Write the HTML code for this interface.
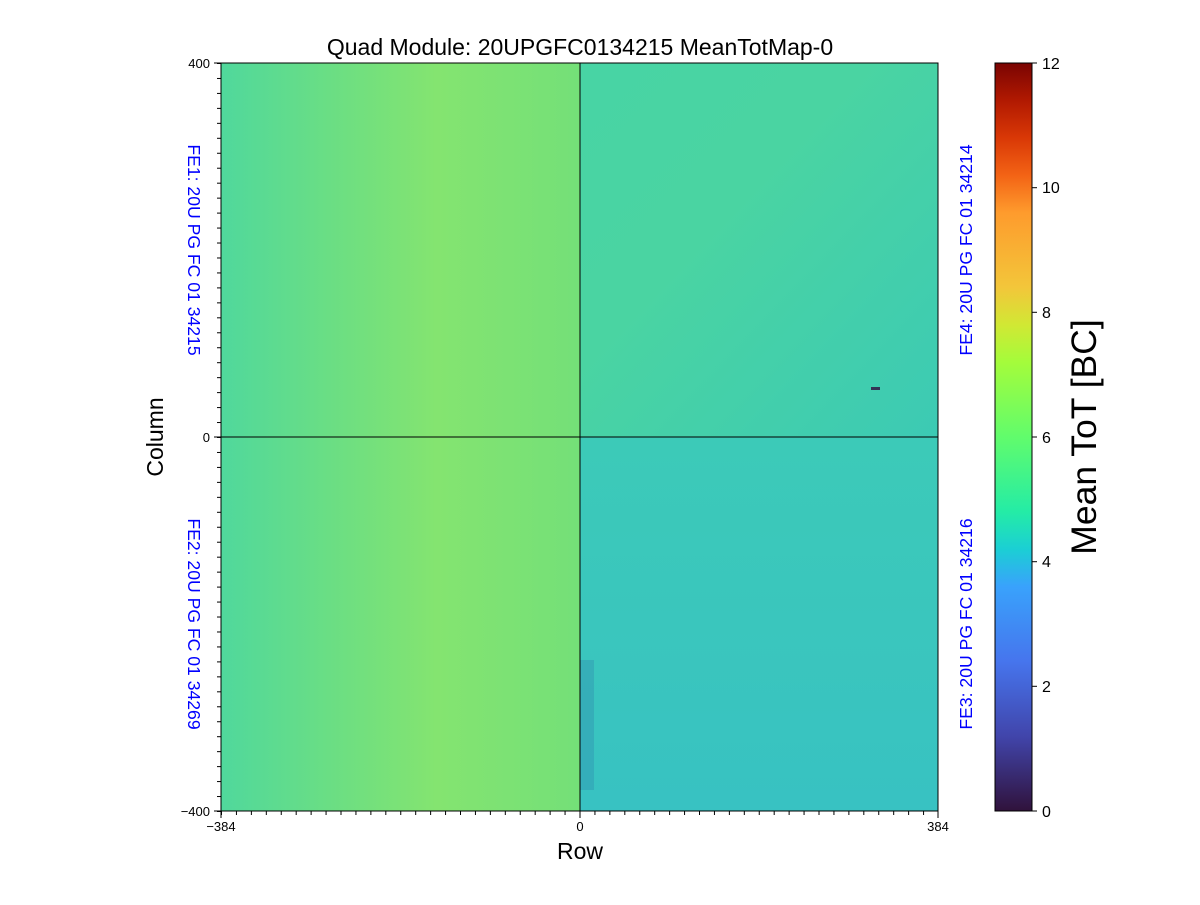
<!DOCTYPE html>
<html><head><meta charset="utf-8"><style>
html,body{margin:0;padding:0;background:#fff;}
svg text{font-family:"Liberation Sans","DejaVu Sans",sans-serif;}
</style></head><body>
<svg width="1200" height="900" viewBox="0 0 1200 900" xmlns="http://www.w3.org/2000/svg">
<defs>
<linearGradient id="gl" x1="0" x2="1" y1="0" y2="0">
<stop offset="0" stop-color="#50d89c"/><stop offset="0.3" stop-color="#6ade84"/>
<stop offset="0.6" stop-color="#84e470"/><stop offset="1" stop-color="#74e078"/>
</linearGradient>
<linearGradient id="gtr" x1="0" x2="1" y1="0" y2="1">
<stop offset="0" stop-color="#48d4a4"/><stop offset="0.4" stop-color="#4ad4a2"/><stop offset="1" stop-color="#3ccab4"/>
</linearGradient>
<linearGradient id="gbr" x1="0" x2="0" y1="0" y2="1">
<stop offset="0" stop-color="#3ccab8"/><stop offset="1" stop-color="#38c2c2"/>
</linearGradient>
<linearGradient id="cb" x1="0" x2="0" y1="1" y2="0">
<stop offset="0" stop-color="#30123b"/><stop offset="0.1" stop-color="#4145ab"/><stop offset="0.2" stop-color="#4675ed"/>
<stop offset="0.3" stop-color="#39a2fc"/><stop offset="0.35" stop-color="#1bcfd4"/><stop offset="0.4" stop-color="#24eca6"/>
<stop offset="0.5" stop-color="#61fc6c"/><stop offset="0.6" stop-color="#a4fc3b"/><stop offset="0.65" stop-color="#d1e834"/>
<stop offset="0.7" stop-color="#f3c63a"/><stop offset="0.8" stop-color="#fe9b2d"/><stop offset="0.85" stop-color="#f36315"/>
<stop offset="0.9" stop-color="#d93806"/><stop offset="0.95" stop-color="#b11901"/><stop offset="1" stop-color="#7a0402"/>
</linearGradient>
<pattern id="px" x="221" y="0" width="14.9375" height="10" patternUnits="userSpaceOnUse"><rect x="0" y="0" width="1" height="10" fill="#000"/></pattern>
<pattern id="py" x="0" y="63" width="10" height="14.96" patternUnits="userSpaceOnUse"><rect x="0" y="0" width="10" height="1" fill="#000"/></pattern>
</defs>
<text x="580" y="55" font-size="23" text-anchor="middle">Quad Module: 20UPGFC0134215 MeanTotMap-0</text>
<rect x="221" y="63" width="359" height="748" fill="url(#gl)"/>
<rect x="580" y="63" width="358" height="374" fill="url(#gtr)"/>
<rect x="580" y="437" width="358" height="374" fill="url(#gbr)"/>
<rect x="580" y="660" width="14" height="130" fill="#2a5aa0" opacity="0.2"/>
<rect x="871" y="387" width="9" height="3" fill="#335"/>
<line x1="580" y1="63" x2="580" y2="811" stroke="#000" stroke-width="1"/>
<line x1="221" y1="437" x2="938" y2="437" stroke="#000" stroke-width="1"/>
<rect x="221" y="63" width="717" height="748" fill="none" stroke="#000" stroke-width="1"/>
<rect x="221" y="811" width="717.5" height="4" fill="url(#px)"/>
<rect x="217" y="63" width="4" height="749" fill="url(#py)"/>
<line x1="221" y1="811" x2="221" y2="818" stroke="#000"/><line x1="580" y1="811" x2="580" y2="818" stroke="#000"/><line x1="938" y1="811" x2="938" y2="818" stroke="#000"/>
<line x1="214" y1="63" x2="221" y2="63" stroke="#000"/><line x1="214" y1="437" x2="221" y2="437" stroke="#000"/><line x1="214" y1="811" x2="221" y2="811" stroke="#000"/>
<g font-size="13">
<text x="221" y="831" text-anchor="middle">−384</text><text x="580" y="831" text-anchor="middle">0</text><text x="938" y="831" text-anchor="middle">384</text>
<text x="210" y="68" text-anchor="end">400</text><text x="210" y="442" text-anchor="end">0</text><text x="210" y="816" text-anchor="end">−400</text>
</g>
<text x="580" y="859" font-size="23" text-anchor="middle">Row</text>
<text transform="translate(163,437) rotate(-90)" font-size="23" text-anchor="middle">Column</text>
<g font-size="17.6" fill="#0000ff">
<text transform="translate(188,250) rotate(90)" text-anchor="middle">FE1: 20U PG FC 01 34215</text>
<text transform="translate(188,624) rotate(90)" text-anchor="middle">FE2: 20U PG FC 01 34269</text>
<text transform="translate(972,250) rotate(-90)" text-anchor="middle">FE4: 20U PG FC 01 34214</text>
<text transform="translate(972,624) rotate(-90)" text-anchor="middle">FE3: 20U PG FC 01 34216</text>
</g>
<rect x="995" y="63" width="37" height="748" fill="url(#cb)" stroke="#000" stroke-width="1"/>
<g stroke="#000">
<line x1="1032" y1="811" x2="1037" y2="811"/><line x1="1032" y1="686.3" x2="1037" y2="686.3"/><line x1="1032" y1="561.7" x2="1037" y2="561.7"/>
<line x1="1032" y1="437" x2="1037" y2="437"/><line x1="1032" y1="312.3" x2="1037" y2="312.3"/><line x1="1032" y1="187.7" x2="1037" y2="187.7"/><line x1="1032" y1="63" x2="1037" y2="63"/>
</g>
<g font-size="16">
<text x="1042" y="817">0</text><text x="1042" y="692">2</text><text x="1042" y="567">4</text><text x="1042" y="443">6</text>
<text x="1042" y="318">8</text><text x="1042" y="193">10</text><text x="1042" y="69">12</text>
</g>
<text transform="translate(1096,437) rotate(-90)" font-size="35.5" text-anchor="middle">Mean ToT [BC]</text>
</svg>
</body></html>
